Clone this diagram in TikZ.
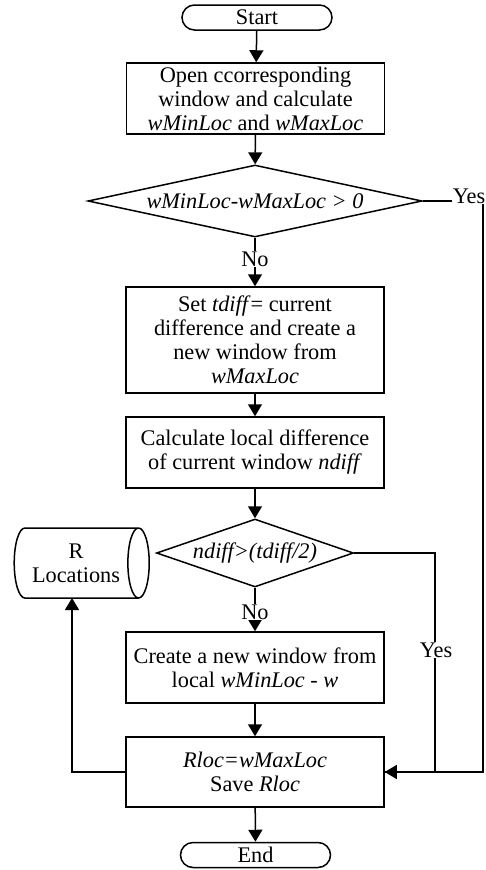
\documentclass[tikz,border=0pt]{standalone}
\usepackage{fontspec}
\setmainfont{Liberation Serif}
\usetikzlibrary{shapes.geometric,arrows.meta}
\begin{document}
\begin{tikzpicture}[x=1pt,y=-1pt,
  txt/.style={font=\fontsize{22.3}{24}\selectfont, align=center},
  procbox/.style={txt, draw, line width=1.5pt, minimum width=258pt, inner sep=0pt},
  term/.style={txt, draw, line width=1.5pt, rounded corners=12.5pt, minimum width=150pt, minimum height=25pt, inner sep=0pt},
  decision/.style={txt, draw, line width=1.5pt, diamond, inner sep=0pt},
  lbl/.style={txt, fill=white, inner sep=1pt},
  conn/.style={line width=1.5pt},
  arr/.style={conn, -{Triangle[length=12pt,width=14pt]}}
]
\useasboundingbox (0,0) rectangle (486,870);
\node[term] (start) at (257,17.5) {Start};
\node[procbox, minimum height=71pt] (b1) at (255.5,98.5) {Open ccorresponding\\window and calculate\\\textit{wMinLoc} and \textit{wMaxLoc}};
\node[decision, minimum width=334pt, minimum height=72pt, aspect=4.64] (d1) at (255,201) {\textit{wMinLoc-wMaxLoc > 0}};
\node[procbox, minimum height=106pt] (b2) at (255,340) {Set \textit{tdiff}= current\\difference and create a\\new window from\\\textit{wMaxLoc}};
\node[procbox, minimum height=71pt] (b3) at (255,452.5) {Calculate local difference\\of current window \textit{ndiff}};
\node[decision, minimum width=197pt, minimum height=68pt, aspect=2.9] (d2) at (255,553) {\textit{ndiff>(tdiff/2)}};
\node[txt, draw, line width=1.5pt, cylinder, aspect=0.55, minimum width=70pt, minimum height=135pt, inner sep=0pt] (cyl) at (76,563) {R\\Locations};
\node[procbox, minimum height=71pt] (b5) at (255,667.5) {Create a new window from\\local \textit{wMinLoc - w}};
\node[procbox, minimum height=70pt] (b4) at (255,772) {\textit{Rloc=wMaxLoc}\\Save \textit{Rloc}};
\node[term] (end) at (255.5,855) {End};

\coordinate (c1) at (483,201);
\coordinate (c2) at (435,553);
\coordinate (cylin) at (72,598);

\draw[arr] (start) -- (b1);
\draw[arr] (b1) -- (d1);
\draw[arr] (d1) -- (b2);
\draw[arr] (b2) -- (b3);
\draw[arr] (b3) -- (d2);
\draw[arr] (d2) -- (b5);
\draw[arr] (b5) -- (b4);
\draw[arr] (b4) -- (end);
\draw[conn] (d1.east) -- (c1) |- (b4.east);
\draw[arr] (d2.east) -- (c2) |- (b4.east);
\draw[arr] (b4.west) -| (cylin);

\node[lbl] at (255,259) {No};
\node[lbl] at (255,612) {No};
\node[lbl] at (469,196) {Yes};
\node[lbl] at (436,650) {Yes};
\end{tikzpicture}
\end{document}
